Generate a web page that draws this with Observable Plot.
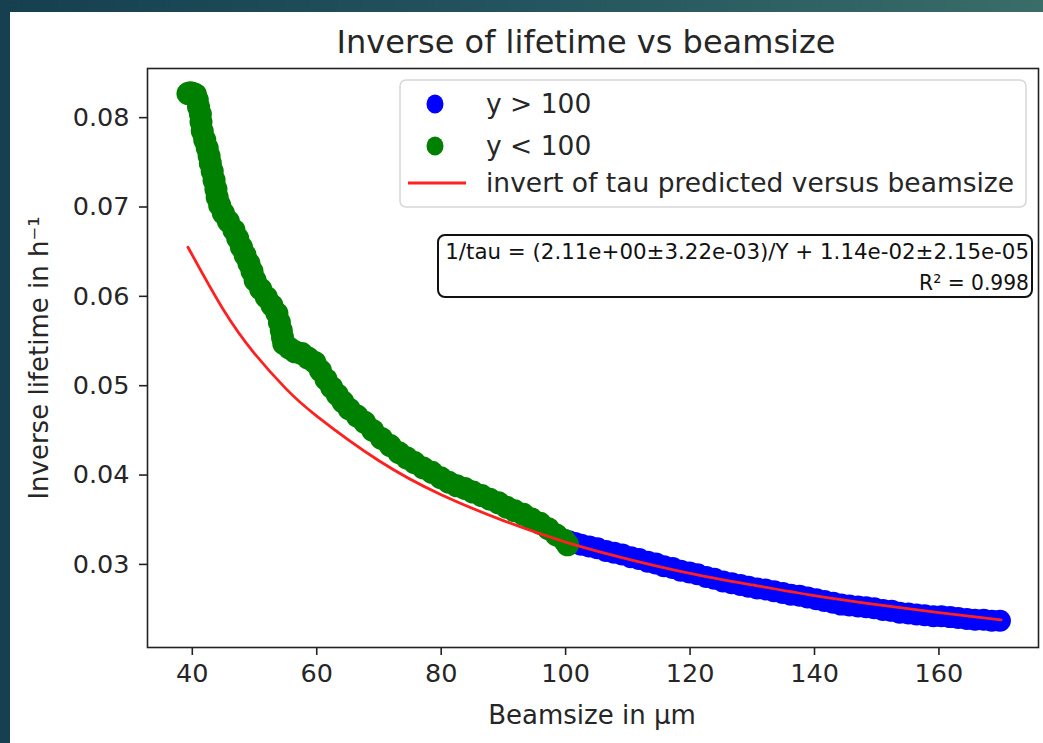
<!DOCTYPE html>
<html>
<head>
<meta charset="utf-8">
<script src="https://cdn.jsdelivr.net/npm/d3@7"></script>
<script src="https://cdn.jsdelivr.net/npm/@observablehq/plot@0.6"></script>
<style>
  html, body { margin: 0; padding: 0; }
  #wrap { position: relative; width: 1043px; height: 743px; overflow: hidden;
          background: linear-gradient(90deg, #163f50 0%, #24545e 50%, #3a6c68 100%); }
  #panel { position: absolute; left: 10px; top: 12px; right: 0; bottom: 0; background: #fff; }
  #chart { position: absolute; left: 0; top: 0; }
  #chart svg { background: transparent !important; }
</style>
</head>
<body>
<div id="wrap"><div id="panel"></div><div id="chart"></div></div>
<script>
// Measured points, y < 100 (green)
const greenX = [39.3,39.7,40.1,40.5,40.8,41.0,41.3,41.4,41.6,42.0,42.4,42.7,42.9,43.2,43.5,43.8,44.0,44.4,45.0,45.8,46.7,47.3,47.9,48.5,49.1,49.6,50.1,51.0,51.9,52.8,53.6,54.0,54.3,54.5,54.7,55.6,56.5,57.6,58.6,59.7,60.6,61.5,62.4,63.3,64.2,65.2,66.5,67.7,69.0,70.4,71.8,73.2,74.5,75.7,77.1,78.5,79.9,81.2,82.5,83.8,85.1,86.5,87.8,89.2,90.5,91.8,93.2,94.5,95.9,97.2,98.5,99.8,100.3];
const greenY = [0.0827,0.0828,0.0827,0.0826,0.0820,0.0812,0.0804,0.0795,0.0785,0.0775,0.0766,0.0757,0.0749,0.0740,0.0730,0.0720,0.0711,0.0702,0.0693,0.0684,0.0674,0.0665,0.0655,0.0646,0.0637,0.0628,0.0618,0.0608,0.0599,0.0590,0.0581,0.0571,0.0562,0.0554,0.0547,0.0542,0.0538,0.0536,0.0531,0.0526,0.0517,0.0507,0.0498,0.0490,0.0482,0.0474,0.0466,0.0459,0.0450,0.0441,0.0433,0.0425,0.0419,0.0414,0.0408,0.0403,0.0397,0.0392,0.0388,0.0385,0.0381,0.0377,0.0373,0.0369,0.0364,0.0360,0.0356,0.0351,0.0346,0.0340,0.0333,0.0327,0.0322];
// Measured points, y > 100 (blue)
const blueX = [100.5,101.5,102.5,103.8,105.1,106.5,107.8,109.1,110.5,111.8,113.2,114.5,115.8,117.2,118.5,119.9,121.2,122.6,123.9,125.3,126.7,128.1,129.4,130.8,132.1,133.5,134.9,136.2,137.6,138.9,140.3,141.6,143.0,144.3,145.6,147.0,148.3,149.6,151.0,152.4,153.7,155.1,156.4,157.7,159.1,160.4,161.8,163.1,164.5,165.8,167.2,168.5,169.8];
const blueY = [0.0326,0.0324,0.0322,0.0320,0.0318,0.0315,0.0313,0.0311,0.0308,0.0306,0.0303,0.0301,0.0298,0.0296,0.0293,0.0291,0.0289,0.0286,0.0284,0.0281,0.0279,0.0277,0.0275,0.0273,0.0272,0.0270,0.0268,0.0266,0.0265,0.0263,0.0261,0.0259,0.0257,0.0255,0.0254,0.0253,0.0252,0.0251,0.0249,0.0248,0.0246,0.0245,0.0244,0.0243,0.0242,0.0242,0.0241,0.0240,0.0239,0.0238,0.0238,0.0237,0.0237];
// Predicted curve
const predX = [39.3,45,50,55,60,70,80,90,100,110,120,130,140,150,160,170];
const predY = [0.0655,0.0585,0.0536,0.0497,0.0466,0.0416,0.0378,0.0349,0.0325,0.0306,0.0290,0.0277,0.0265,0.0255,0.0246,0.0238];

const xTicks = [40,60,80,100,120,140,160];
const yTicks = [0.03,0.04,0.05,0.06,0.07,0.08];

const legendLabels = ["y > 100", "y < 100", "invert of tau predicted versus beamsize"];
const titleText = "Inverse of lifetime vs beamsize";
const xLabel = "Beamsize in µm";
const yLabel = "Inverse lifetime in h⁻¹";
const annotLines = ["1/tau = (2.11e+00±3.22e-03)/Y + 1.14e-02±2.15e-05", "R² = 0.998"];

const green = greenX.map((x, i) => ({x, y: greenY[i]}));
const blue = blueX.map((x, i) => ({x, y: blueY[i]}));
const pred = predX.map((x, i) => ({x, y: predY[i]}));

const chart = Plot.plot({
  width: 1043, height: 743,
  marginLeft: 147, marginRight: 5, marginTop: 68, marginBottom: 96,
  style: {fontFamily: "DejaVu Sans", fontSize: "25.5px", color: "#262626", background: "transparent"},
  x: {domain: [32.8, 176.0], ticks: xTicks, tickFormat: d => String(d), tickSize: 8, tickPadding: 8, label: null},
  y: {domain: [0.0207, 0.0855], ticks: yTicks, tickFormat: d3.format(".2f"), tickSize: 8, tickPadding: 10, label: null},
  marks: [
    Plot.dot(blue, {x: "x", y: "y", r: 11, fill: "#0000ff", stroke: "none"}),
    Plot.dot(green, {x: "x", y: "y", r: 11.5, fill: "#008000", stroke: "none"}),
    Plot.line(pred, {x: "x", y: "y", stroke: "#ff2020", strokeWidth: 2.8, curve: "natural"}),
    Plot.frame({stroke: "#222", strokeWidth: 1.6})
  ]
});
document.getElementById("chart").appendChild(chart);

const svg = d3.select(chart);
svg.selectAll("[aria-label='x-axis tick'], [aria-label='y-axis tick']").attr("stroke", "#222").attr("stroke-width", 1.6);

const font = "DejaVu Sans";
// Title
svg.append("text").attr("x", 586).attr("y", 53).attr("text-anchor", "middle")
  .attr("font-family", font).attr("font-size", 32).attr("fill", "#262626").text(titleText);
// Axis labels
svg.append("text").attr("x", 592).attr("y", 724).attr("text-anchor", "middle")
  .attr("font-family", font).attr("font-size", 26).attr("fill", "#262626").text(xLabel);
svg.append("text").attr("transform", "translate(48,358) rotate(-90)").attr("text-anchor", "middle")
  .attr("font-family", font).attr("font-size", 26).attr("fill", "#262626").text(yLabel);

// Legend
const lg = svg.append("g");
lg.append("rect").attr("x", 400).attr("y", 80).attr("width", 626).attr("height", 127).attr("rx", 6)
  .attr("fill", "rgba(255,255,255,0.85)").attr("stroke", "#d6d6d6").attr("stroke-width", 1.5);
lg.append("ellipse").attr("cx", 435).attr("cy", 104).attr("rx", 8.5).attr("ry", 9.5).attr("fill", "#0000ff");
lg.append("ellipse").attr("cx", 435).attr("cy", 146).attr("rx", 8.5).attr("ry", 9.5).attr("fill", "#008000");
lg.append("line").attr("x1", 408).attr("x2", 466).attr("y1", 183).attr("y2", 183).attr("stroke", "#ff2020").attr("stroke-width", 3);
[113, 155, 192].forEach((yy, i) => {
  lg.append("text").attr("x", 486).attr("y", yy).attr("text-anchor", "start")
    .attr("font-family", font).attr("font-size", 26.5)
    .attr("fill", "#262626").text(legendLabels[i]);
});

// Annotation box
const an = svg.append("g");
an.append("rect").attr("x", 438).attr("y", 235).attr("width", 594).attr("height", 62).attr("rx", 7)
  .attr("fill", "#fff").attr("stroke", "#111").attr("stroke-width", 2);
const targets = [584, 110];
[259, 290].forEach((yy, i) => {
  const g = an.append("g");
  const t = g.append("text").attr("x", 0).attr("y", 0).attr("text-anchor", "end")
    .attr("font-family", font).attr("font-size", 22).attr("fill", "#111").text(annotLines[i]);
  const w = t.node().getComputedTextLength() || targets[i];
  const sx = Math.min(1, targets[i] / w);
  g.attr("transform", `translate(1029,${yy}) scale(${sx},1)`);
});
</script>
</body>
</html>
